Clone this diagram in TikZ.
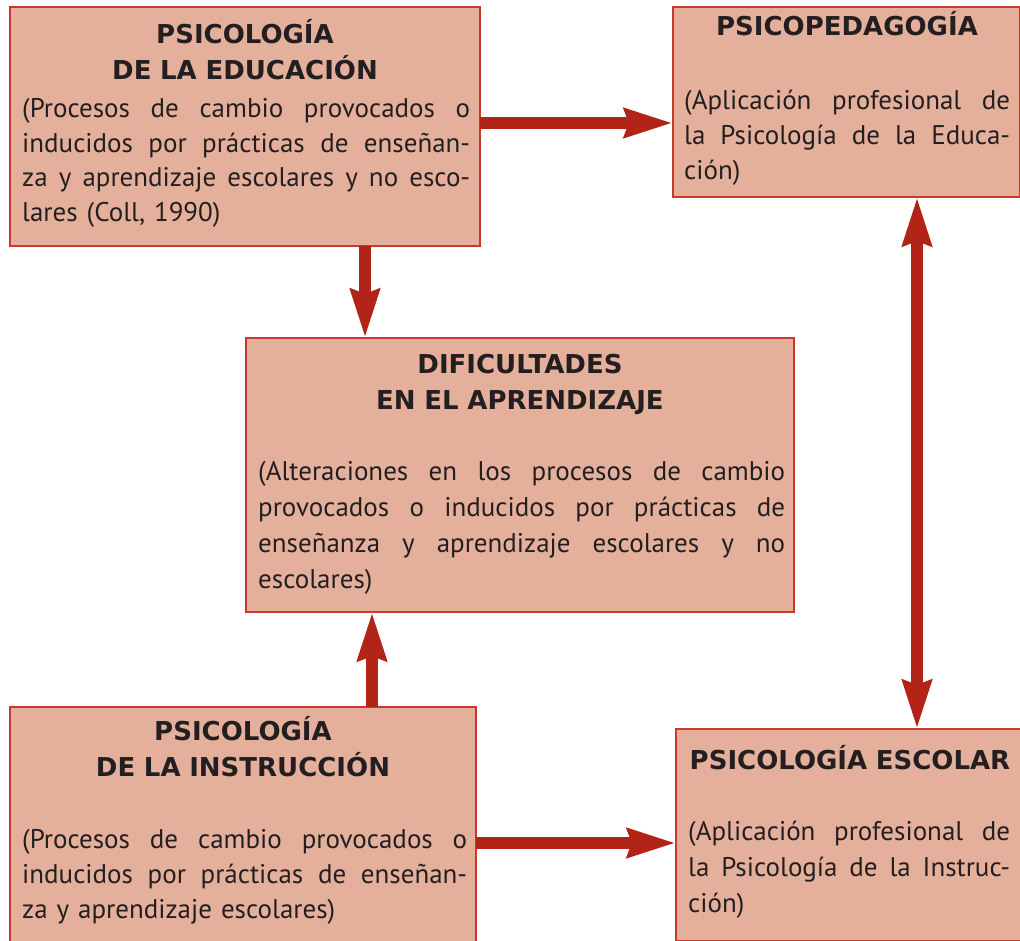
\documentclass[tikz,border=0pt]{standalone}
\usepackage{fontspec}
\setmainfont{PT Sans}
\newfontfamily\hfont{DejaVu Sans}
\usetikzlibrary{arrows.meta}
\definecolor{boxfill}{HTML}{E5B09B}
\definecolor{boxred}{HTML}{C8392E}
\definecolor{arrowred}{HTML}{B22418}
\definecolor{textc}{HTML}{231F20}
\newcommand\jl[2]{\leavevmode\hbox to #1{\spaceskip=0.27em plus 1fil\relax #2}}
\begin{document}
\begin{tikzpicture}[x=1pt,y=-1pt,
  box/.style={draw=boxred, line width=2.5pt, fill=boxfill, rectangle, inner sep=0pt, outer sep=0pt, anchor=north west},
  head/.style={inner sep=0pt, text=textc, font=\hfont\bfseries\fontsize{26}{36}\selectfont, align=center, text width=#1, anchor=base},
  body/.style={inner sep=0pt, text=textc, font=\fontsize{27}{#1}\selectfont, anchor=base west},
  arr/.style={draw=arrowred, line width=12pt, -{Stealth[length=48pt,width=28pt,inset=4pt]}},
  darr/.style={draw=arrowred, line width=12pt, {Stealth[length=48pt,width=28pt,inset=4pt]}-{Stealth[length=48pt,width=28pt,inset=4pt]}}
]
\useasboundingbox (0,0) rectangle (1020,941);
% boxes
\node[box, minimum width=470pt, minimum height=239pt] (b1) at (10,7) {};
\node[box, minimum width=347.5pt, minimum height=190pt] (b2) at (673,7) {};
\node[box, minimum width=548pt, minimum height=274pt] (b3) at (246,338) {};
\node[box, minimum width=466pt, minimum height=240pt] (b4) at (10,707) {};
\node[box, minimum width=350pt, minimum height=212pt] (b5) at (676,729) {};
% headings
\node[head=460pt] (h1) at (245,44) {PSICOLOGÍA\\DE LA EDUCACIÓN};
\node[head=340pt] (h2) at (847,36) {PSICOPEDAGOGÍA};
\node[head=540pt] (h3) at (520,373) {DIFICULTADES\\EN EL APRENDIZAJE};
\node[head=460pt] (h4) at (243,740) {PSICOLOGÍA\\DE LA INSTRUCCIÓN};
\node[head=340pt] (h5) at (850,769) {PSICOLOGÍA ESCOLAR};
% bodies
\node[body=34.5pt, text width=448pt] (t1) at (22,118) {\jl{448pt}{(Procesos de cambio provocados o}\\\jl{448pt}{inducidos por prácticas de enseñan-}\\\jl{448pt}{za y aprendizaje escolares y no esco-}\\lares (Coll, 1990)};
\node[body=35pt, text width=326pt] (t2) at (684,110) {\jl{326pt}{(Aplicación profesional de}\\\jl{326pt}{la Psicología de la Educa-}\\ción)};
\node[body=36pt, text width=527pt] (t3) at (258,480) {\jl{527pt}{(Alteraciones en los procesos de cambio}\\\jl{527pt}{provocados o inducidos por prácticas de}\\\jl{527pt}{enseñanza y aprendizaje escolares y no}\\escolares)};
\node[body=35pt, text width=445pt] (t4) at (22,848) {\jl{445pt}{(Procesos de cambio provocados o}\\\jl{445pt}{inducidos por prácticas de enseñan-}\\za y aprendizaje escolares)};
\node[body=36pt, text width=322pt] (t5) at (688,840) {\jl{322pt}{(Aplicación profesional de}\\\jl{322pt}{la Psicología de la Instruc-}\\ción)};
% guide coordinates
\coordinate (ya) at (0,123);
\coordinate (yb) at (0,843);
\coordinate (xa) at (365,0);
\coordinate (xb) at (372,0);
\coordinate (xc) at (917,0);
% arrows
\draw[arr] (b1.east |- ya) -- (b2.west |- ya);
\draw[arr] (b4.east |- yb) -- (b5.west |- yb);
\draw[arr] (b1.south -| xa) -- (b3.north -| xa);
\draw[arr] (b4.north -| xb) -- (b3.south -| xb);
\draw[darr] (b2.south -| xc) -- (b5.north -| xc);
\end{tikzpicture}
\end{document}
